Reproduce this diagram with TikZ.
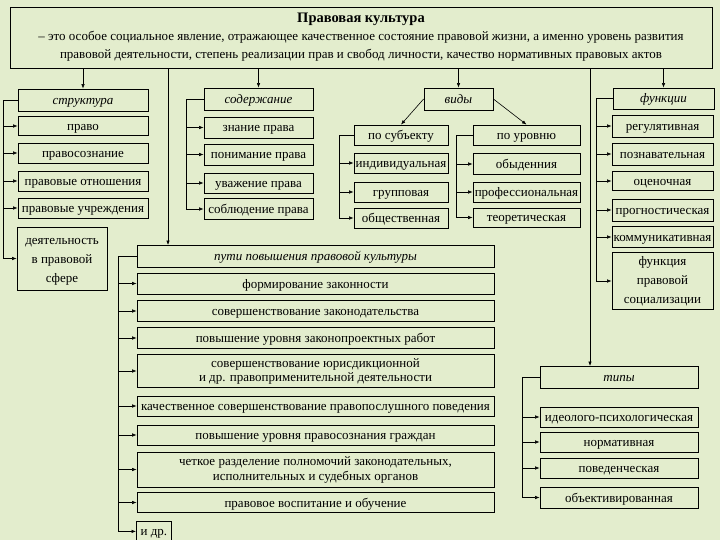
\documentclass[tikz,border=0pt]{standalone}
\usepackage{fontspec}
\setmainfont{Liberation Serif}
\usepackage{tikz}
\usetikzlibrary{arrows.meta}

\definecolor{bggreen}{RGB}{227,237,205}

\begin{document}
\begin{tikzpicture}[x=1pt,y=-1pt,
    frame/.style={draw, line width=0.8pt, inner sep=0pt,
        font=\fontsize{13}{14}\selectfont},
    box/.style={frame, text height=10.5pt, text depth=1.5pt},
    mbox/.style={frame, align=center},
    head/.style={box, font=\fontsize{13}{14}\selectfont\itshape},
    arr/.style={-{Latex[length=4.5pt,width=3.5pt]}, line width=0.6pt}]
\fill[bggreen] (0,0) rectangle (720,540);
\useasboundingbox (0,0) rectangle (720,540);

% definition
\node[mbox, minimum width=702, minimum height=61, font=\fontsize{13}{18}\selectfont] (culture) at (361,37.5)
    {{\fontsize{14.5}{18}\selectfont\bfseries Правовая культура}\\
     – это особое социальное явление, отражающее качественное состояние правовой жизни, а именно уровень развития\\
     правовой деятельности, степень реализации прав и свобод личности, качество нормативных правовых актов};

% structure
\node[head, minimum width=130, minimum height=22] (struct) at (83,100) {структура};
\node[box, minimum width=130, minimum height=19] (pravo) at (83,126) {право};
\node[box, minimum width=130, minimum height=20] (soznan) at (83,153) {правосознание};
\node[box, minimum width=130, minimum height=20] (otnosh) at (83,181) {правовые отношения};
\node[box, minimum width=130, minimum height=20] (uchrezh) at (83,208) {правовые учреждения};
\node[mbox, minimum width=90, minimum height=63, font=\fontsize{13}{19}\selectfont] (deyat) at (62,258.5)
    {\rule{0pt}{12pt}деятельность\\в правовой\\сфере};

% content
\node[head, minimum width=109, minimum height=22] (soder) at (258.5,99) {содержание};
\node[box, minimum width=109, minimum height=21] (znanie) at (258.5,127.5) {знание права};
\node[box, minimum width=109, minimum height=21] (ponim) at (258.5,154.5) {понимание права};
\node[box, minimum width=109, minimum height=20] (uvazh) at (258.5,183) {уважение права};
\node[box, minimum width=109, minimum height=21] (soblud) at (258.5,209) {соблюдение права};

% kinds
\node[head, minimum width=69, minimum height=22] (vidy) at (458.5,99) {виды};
\node[box, minimum width=94, minimum height=20] (subj) at (401,135) {по субъекту};
\node[box, minimum width=94, minimum height=20] (indiv) at (401,163) {индивидуальная};
\node[box, minimum width=94, minimum height=20] (grupp) at (401,192) {групповая};
\node[box, minimum width=94, minimum height=20] (obshch) at (401,218) {общественная};
\node[box, minimum width=107, minimum height=20] (urov) at (526.5,135) {по уровню};
\node[box, minimum width=107, minimum height=21] (obyd) at (526.5,164) {обыденния};
\node[box, minimum width=107, minimum height=20] (prof) at (526.5,192) {профессиональная};
\node[box, minimum width=107, minimum height=19] (teor) at (526.5,217.5) {теоретическая};

% functions
\node[head, minimum width=101, minimum height=21] (func) at (663.5,98.5) {функции};
\node[box, minimum width=101, minimum height=22] (regul) at (662.5,126) {регулятивная};
\node[box, minimum width=101, minimum height=22] (poznav) at (662.5,154) {познавательная};
\node[box, minimum width=101, minimum height=19] (ocen) at (662.5,181) {оценочная};
\node[box, minimum width=101, minimum height=22] (progn) at (662.5,210) {прогностическая};
\node[box, minimum width=101, minimum height=21] (kommun) at (662.5,237) {коммуникативная};
\node[mbox, minimum width=101, minimum height=57, font=\fontsize{13}{19}\selectfont] (social) at (662.5,281)
    {функция\\правовой\\социализации};

% ways
\node[head, minimum width=357, minimum height=22] (puti) at (315.5,256) {пути повышения правовой культуры};
\node[box, minimum width=357, minimum height=21] (put1) at (315.5,283.5) {формирование законности};
\node[box, minimum width=357, minimum height=21] (put2) at (315.5,311) {совершенствование законодательства};
\node[box, minimum width=357, minimum height=21] (put3) at (315.5,338) {повышение уровня законопроектных работ};
\node[mbox, minimum width=357, minimum height=33] (put4) at (315.5,371)
    {совершенствование юрисдикционной\\и др. правоприменительной деятельности};
\node[box, minimum width=357, minimum height=20] (put5) at (315.5,406) {качественное совершенствование правопослушного поведения};
\node[box, minimum width=357, minimum height=20] (put6) at (315.5,435) {повышение уровня правосознания граждан};
\node[mbox, minimum width=357, minimum height=35, font=\fontsize{13}{15}\selectfont] (put7) at (315.5,469.5)
    {четкое разделение полномочий законодательных,\\исполнительных и судебных органов};
\node[box, minimum width=357, minimum height=20] (put8) at (315.5,502.5) {правовое воспитание и обучение};
\node[box, minimum width=35, minimum height=20, anchor=north west] (put9) at (136,521) {и др.};

% types
\node[head, minimum width=158, minimum height=22] (tipy) at (619,377) {типы};
\node[box, minimum width=158, minimum height=20] (ideol) at (619,417) {идеолого-психологическая};
\node[box, minimum width=158, minimum height=20] (norm) at (619,442) {нормативная};
\node[box, minimum width=158, minimum height=20] (poved) at (619,468) {поведенческая};
\node[box, minimum width=158, minimum height=21] (obekt) at (619,497.5) {объективированная};

\coordinate (putin) at (168,245);
\coordinate (tipin) at (590,366);

% arrows from the definition
\foreach \h in {struct,soder,vidy,func}
    \draw[arr] (culture.south -| \h.north) -- (\h.north);
\draw[arr] (culture.south -| putin) -- (putin);
\draw[arr] (culture.south -| tipin) -- (tipin);
\draw[arr] (vidy.west) -- (subj.north);
\draw[arr] (vidy.east) -- (urov.north);

% brackets
\foreach \c in {pravo,soznan,otnosh,uchrezh,deyat}
    \draw[arr] (struct.west) -- ++(-14,0) |- (\c.west);
\foreach \c in {znanie,ponim,uvazh,soblud}
    \draw[arr] (soder.west) -- ++(-17,0) |- (\c.west);
\foreach \c in {indiv,grupp,obshch}
    \draw[arr] (subj.west) -- ++(-14,0) |- (\c.west);
\foreach \c in {obyd,prof,teor}
    \draw[arr] (urov.west) -- ++(-16,0) |- (\c.west);
\foreach \c in {regul,poznav,ocen,progn,kommun,social}
    \draw[arr] (func.west) -- ++(-16,0) |- (\c.west);
\foreach \c in {put1,put2,put3,put4,put5,put6,put7,put8,put9}
    \draw[arr] (puti.west) -- ++(-18,0) |- (\c.west);
\foreach \c in {ideol,norm,poved,obekt}
    \draw[arr] (tipy.west) -- ++(-17,0) |- (\c.west);
\end{tikzpicture}
\end{document}
